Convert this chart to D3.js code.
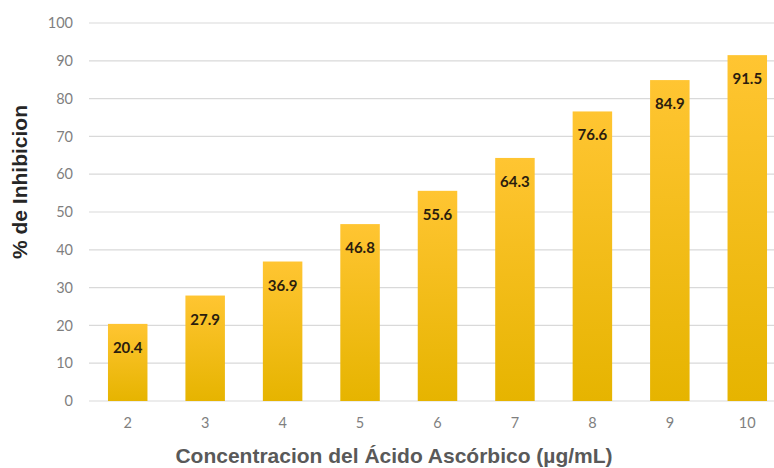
<!DOCTYPE html>
<meta charset="utf-8">
<style>
    body { margin: 0; background: #fff; }
    .tick text { font-family: Lato, "Open Sans", sans-serif; font-size: 14.5px; fill: #7f7f7f; }
    .label { font-family: Lato, "Open Sans", sans-serif; font-weight: bold; font-size: 15px; fill: #2b1d0e; }
    .title { font-family: "Liberation Sans", Arial, sans-serif; font-weight: bold; }
</style>
<body>
<svg width="774" height="468"></svg>
<script src="https://d3js.org/d3.v7.min.js"></script>
<script>
    const concentrations = ["2", "3", "4", "5", "6", "7", "8", "9", "10"];
    const inhibition = [20.4, 27.9, 36.9, 46.8, 55.6, 64.3, 76.6, 84.9, 91.5];
    const yTicks = [0, 10, 20, 30, 40, 50, 60, 70, 80, 90, 100];

    const svg = d3.select("svg");

    const x = d3.scaleBand()
        .domain(concentrations)
        .range([89, 786])
        .paddingInner(0.49)
        .paddingOuter(0.245);

    const y = d3.scaleLinear()
        .domain([0, 100])
        .range([401, 23]);

    const defs = svg.append("defs");
    const grad = defs.append("linearGradient")
        .attr("id", "barGrad")
        .attr("x1", 0).attr("y1", 0).attr("x2", 0).attr("y2", 1);
    grad.append("stop").attr("offset", "0%").attr("stop-color", "#ffc532");
    grad.append("stop").attr("offset", "100%").attr("stop-color", "#e6b400");

    // gridlines
    svg.append("g")
        .selectAll("line")
        .data(yTicks)
        .enter().append("line")
        .attr("x1", 89)
        .attr("x2", 786)
        .attr("y1", d => y(d))
        .attr("y2", d => y(d))
        .attr("stroke", "#d9d9d9")
        .attr("stroke-width", 1.2);

    const yAxis = svg.append("g")
        .attr("transform", "translate(73,0)")
        .call(d3.axisLeft(y).tickValues(yTicks).tickSize(0).tickPadding(0));
    yAxis.select(".domain").remove();

    const xAxis = svg.append("g")
        .attr("transform", "translate(0,401)")
        .call(d3.axisBottom(x).tickSize(0).tickPadding(17));
    xAxis.select(".domain").remove();

    svg.append("g")
        .selectAll("rect")
        .data(inhibition)
        .enter().append("rect")
        .attr("x", (d, i) => x(concentrations[i]))
        .attr("width", x.bandwidth())
        .attr("y", d => y(d))
        .attr("height", d => y(0) - y(d))
        .attr("fill", "url(#barGrad)");

    svg.append("g")
        .selectAll("text")
        .data(inhibition)
        .enter().append("text")
        .attr("class", "label")
        .attr("x", (d, i) => x(concentrations[i]) + x.bandwidth() / 2)
        .attr("y", d => y(d) + 29)
        .attr("text-anchor", "middle")
        .text(d => d.toFixed(1));

    svg.append("text")
        .attr("class", "title")
        .attr("transform", "translate(27,182) rotate(-90)")
        .attr("text-anchor", "middle")
        .attr("font-size", 21)
        .attr("fill", "#262626")
        .text("% de Inhibicion");

    svg.append("text")
        .attr("class", "title")
        .attr("x", 394)
        .attr("y", 463)
        .attr("text-anchor", "middle")
        .attr("font-size", 21)
        .attr("fill", "#595959")
        .text("Concentracion del Ácido Ascórbico (µg/mL)");
</script>
</body>
